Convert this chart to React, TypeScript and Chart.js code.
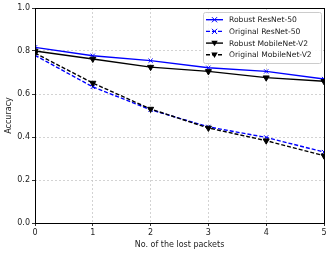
import React, { useEffect, useRef } from "react";
import { Chart, registerables } from "chart.js";

Chart.register(...registerables);

const lostPackets = [0, 1, 2, 3, 4, 5];
const robustResNet = [0.817, 0.778, 0.755, 0.722, 0.705, 0.670];
const originalResNet = [0.780, 0.633, 0.527, 0.447, 0.398, 0.330];
const robustMobileNet = [0.800, 0.763, 0.725, 0.705, 0.676, 0.659];
const originalMobileNet = [0.790, 0.651, 0.530, 0.442, 0.383, 0.313];
const seriesNames = ["Robust ResNet-50", "Original ResNet-50", "Robust MobileNet-V2", "Original MobileNet-V2"];
const yTicks = [0, 0.2, 0.4, 0.6, 0.8, 1.0];

const FONT = "'DejaVu Sans', sans-serif";
const FS = 8;
const LEGEND_FS = 7.6;

const framePlugin = {
  id: "frame",
  afterDraw(chart: any) {
    const { ctx, chartArea: a } = chart;
    ctx.save();
    ctx.strokeStyle = "#000";
    ctx.lineWidth = 1;
    ctx.setLineDash([]);
    ctx.strokeRect(Math.round(a.left) + 0.5, Math.round(a.top) + 0.5, Math.round(a.right - a.left), Math.round(a.bottom - a.top));

    // legend
    const bx = a.right - 121, by = a.top + 4, bw = 118, bh = 51;
    ctx.fillStyle = "rgba(255,255,255,0.85)";
    ctx.strokeStyle = "#ccc";
    ctx.beginPath();
    (ctx as any).roundRect(bx + 0.5, by + 0.5, bw, bh, 2);
    ctx.fill();
    ctx.stroke();
    ctx.font = `${LEGEND_FS}px ${FONT}`;
    ctx.textBaseline = "middle";
    chart.data.datasets.forEach((ds: any, i: number) => {
      const y = by + 7.7 + i * 11.7;
      const x0 = bx + 3, x1 = bx + 20;
      ctx.strokeStyle = ds.borderColor;
      ctx.lineWidth = ds.borderWidth;
      ctx.setLineDash(ds.borderDash || []);
      ctx.beginPath();
      ctx.moveTo(x0, y);
      ctx.lineTo(x1, y);
      ctx.stroke();
      ctx.setLineDash([]);
      const cx = (x0 + x1) / 2;
      ctx.fillStyle = ds.pointBackgroundColor;
      ctx.strokeStyle = ds.pointBorderColor;
      ctx.lineWidth = 1;
      if (ds.pointStyle === "crossRot") {
        const r = 2.6;
        ctx.beginPath();
        ctx.moveTo(cx - r, y - r); ctx.lineTo(cx + r, y + r);
        ctx.moveTo(cx + r, y - r); ctx.lineTo(cx - r, y + r);
        ctx.stroke();
      } else {
        const r = 3.2;
        ctx.beginPath();
        ctx.moveTo(cx - r, y - r * 0.7);
        ctx.lineTo(cx + r, y - r * 0.7);
        ctx.lineTo(cx, y + r);
        ctx.closePath();
        ctx.fill();
      }
      ctx.fillStyle = "#222";
      ctx.fillText(ds.label, bx + 26, y + 0.5);
    });
    ctx.restore();
  },
};

export default function App() {
  const ref = useRef<HTMLCanvasElement>(null);
  useEffect(() => {
    const mk = (label: string, data: number[], color: string, dashed: boolean, style: string, order: number) => ({
      label,
      data: lostPackets.map((x, i) => ({ x, y: data[i] })),
      borderColor: color,
      backgroundColor: color,
      pointBackgroundColor: color,
      pointBorderColor: color,
      borderWidth: 1.4,
      borderDash: dashed ? [4, 2] : [],
      pointStyle: style,
      pointRotation: style === "triangle" ? 180 : 0,
      pointRadius: style === "triangle" ? 3.5 : 3,
      pointBorderWidth: 1,
      tension: 0,
      order,
    });
    const chart = new Chart(ref.current!, {
      type: "line",
      data: {
        datasets: [
          mk(seriesNames[0], robustResNet, "#0000ff", false, "crossRot", 3),
          mk(seriesNames[1], originalResNet, "#0000ff", true, "crossRot", 2),
          mk(seriesNames[2], robustMobileNet, "#000000", false, "triangle", 1),
          mk(seriesNames[3], originalMobileNet, "#000000", true, "triangle", 0),
        ] as any,
      },
      options: {
        animation: false,
        responsive: false,
        layout: { padding: { top: 8, right: 9, left: 0, bottom: 0 } },
        plugins: { legend: { display: false }, tooltip: { enabled: false } },
        scales: {
          x: {
            type: "linear",
            min: 0,
            max: 5,
            ticks: { stepSize: 1, color: "#222", font: { family: FONT, size: FS }, padding: 2, maxRotation: 0 },
            grid: { color: "#c8c8c8", tickColor: "#000", tickLength: 3, lineWidth: 0.8 },
            border: { display: false, dash: [2, 2] },
            title: { display: true, text: "No. of the lost packets", color: "#222", font: { family: FONT, size: FS }, padding: { top: 2 } },
            afterFit: (s: any) => { s.height = 31; },
          },
          y: {
            min: 0,
            max: 1,
            afterBuildTicks: (s: any) => { s.ticks = yTicks.map((v) => ({ value: v })); },
            ticks: { color: "#222", font: { family: FONT, size: FS }, padding: 2, callback: (v: any) => Number(v).toFixed(1) },
            grid: { color: "#c8c8c8", tickColor: "#000", tickLength: 3, lineWidth: 0.8 },
            border: { display: false, dash: [2, 2] },
            title: { display: true, text: "Accuracy", color: "#222", font: { family: FONT, size: FS }, padding: { bottom: 2 } },
            afterFit: (s: any) => { s.width = 35; },
          },
        },
      } as any,
      plugins: [framePlugin],
    });
    return () => chart.destroy();
  }, []);
  return (
    <div style={{ position: "fixed", left: 0, top: 0, width: 333, height: 254, background: "#fff" }}>
      <canvas ref={ref} width={333} height={254} style={{ display: "block" }} />
    </div>
  );
}
